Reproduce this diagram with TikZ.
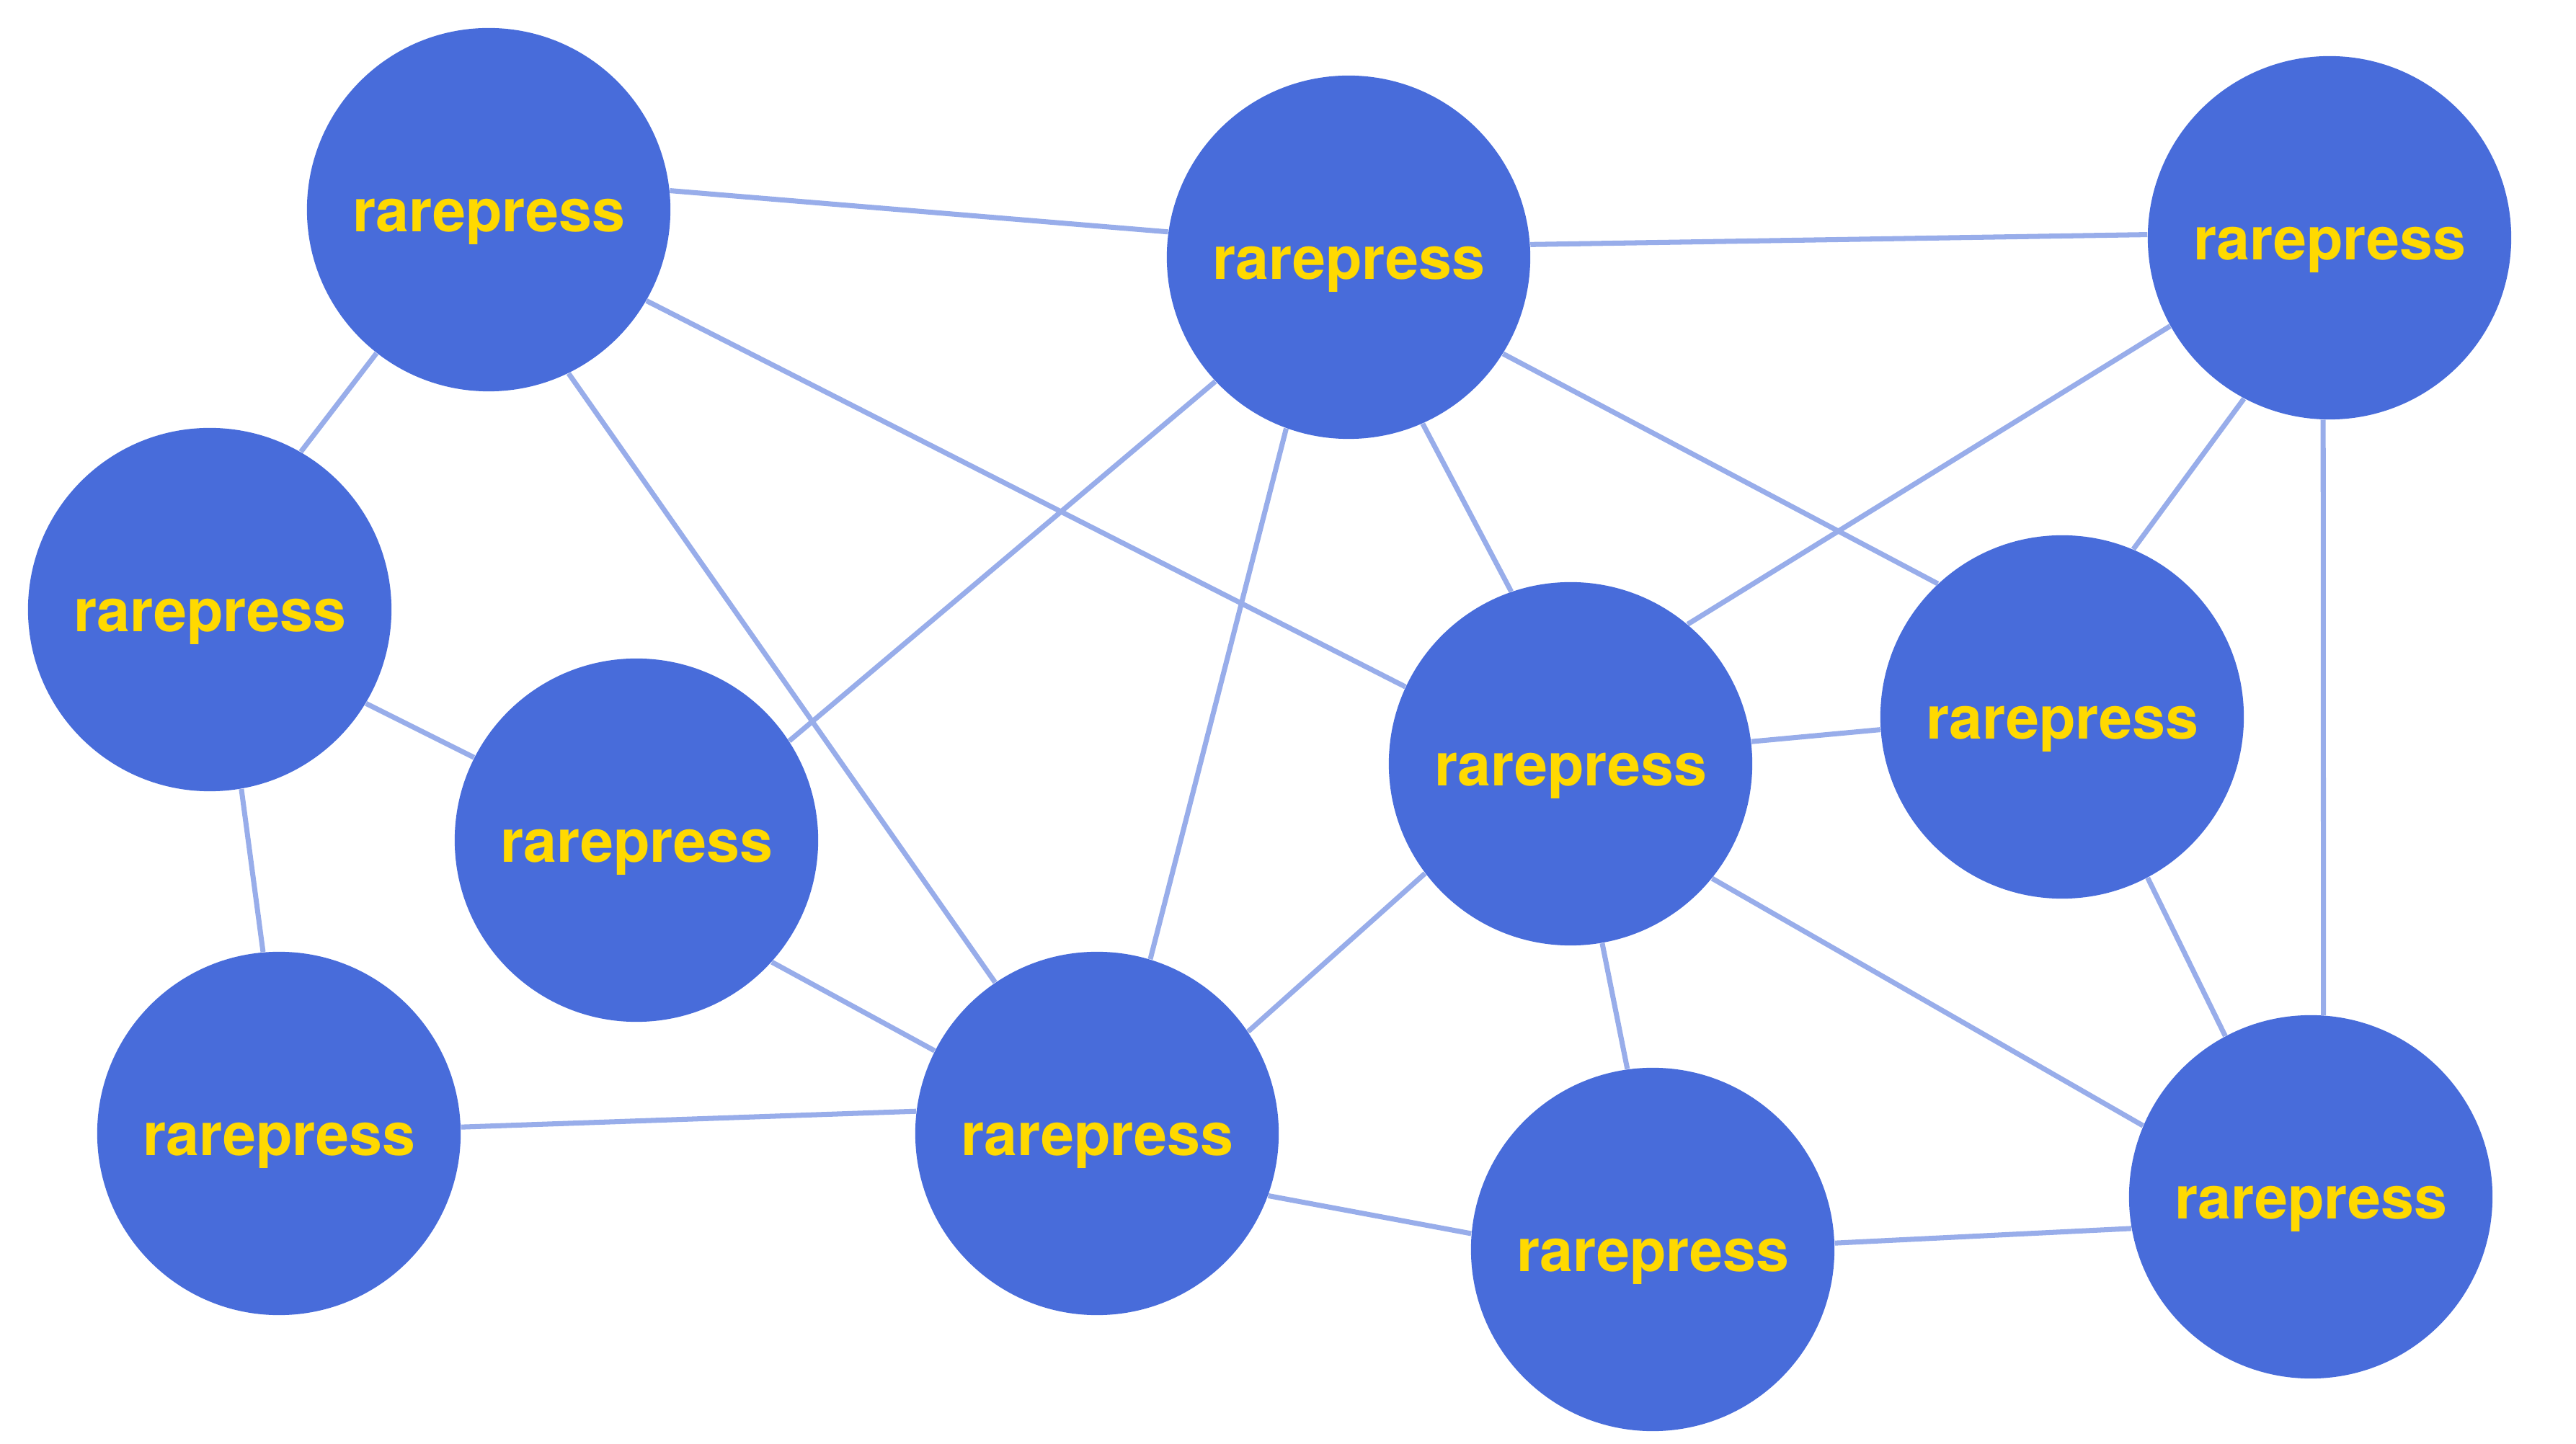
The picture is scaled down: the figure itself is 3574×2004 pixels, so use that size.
\documentclass[tikz,border=0pt]{standalone}
\usepackage{fontspec}
\setmainfont{TeX Gyre Heros}
\usepackage{tikz}
\definecolor{nodeblue}{RGB}{72,108,218}
\definecolor{labelgold}{RGB}{255,217,0}
\definecolor{edgeblue}{RGB}{152,173,234}

\begin{document}
\begin{tikzpicture}[line join=round, x=0.01cm,y=-0.01cm,
	press/.style={circle,fill=nodeblue,minimum size=5.04cm,inner sep=0pt,text=labelgold,
		font=\bfseries\fontsize{23.5}{28}\selectfont,text height=17.6pt,text depth=0pt},
	link/.style={color=edgeblue,line width=2pt}]
						\useasboundingbox (0,0) rectangle (3574,2004);
						\node[press] (A) at (678,291) {rarepress};
						\node[press] (B) at (1871,357) {rarepress};
						\node[press] (C) at (3232,330) {rarepress};
						\node[press] (D) at (291,846) {rarepress};
						\node[press] (E) at (883,1166) {rarepress};
						\node[press] (F) at (2179,1060) {rarepress};
						\node[press] (G) at (2861,995) {rarepress};
						\node[press] (H) at (387,1573) {rarepress};
						\node[press] (I) at (1522,1573) {rarepress};
						\node[press] (J) at (2293,1734) {rarepress};
						\node[press] (K) at (3206,1661) {rarepress};
						\foreach \a/\b in {A.6/B.172, A.-128/D.60, A.-30/F.155, A.-64/I.124,
							B.4/C.179, B.-137/E.33, B.-110/I.73, B.-66/F.109, B.-32/G.133,
							C.-151/F.50, C.-118/G.67, C.-92/K.86,
							D.-31/E.153, D.-80/H.95, E.-42/I.153,
							F.7/G.-176, I.34/F.-143, F.-80/J.98, F.-39/K.157,
							G.-62/K.118, H.2/I.173, I.-20/J.175, J.2/K.-170}
						\draw[link] (\a) -- (\b);
					\end{tikzpicture}
\end{document}
